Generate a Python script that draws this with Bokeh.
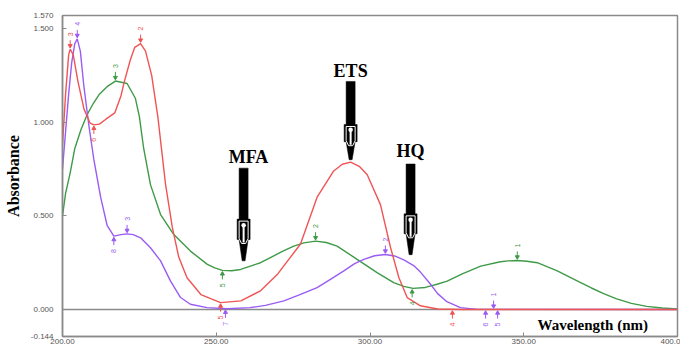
import math
from bokeh.plotting import figure
from bokeh.models import Range1d, FixedTicker, NumeralTickFormatter, Span, Label
from bokeh.core.properties import value
from bokeh.embed import file_html
from bokeh.resources import INLINE

# ---------------- data ----------------
x_ticks = [200, 250, 300, 350, 400]
x_tick_labels = ["200.00", "250.00", "300.00", "350.00", "400.0"]
y_ticks = [-0.144, 0.0, 0.5, 1.0, 1.5, 1.57]

# ETS (red)
wl_ets = [200, 201, 202, 202.5, 203.5, 205, 207, 209, 210.2, 212, 214, 217, 219, 220, 222,
          223.5, 225.4, 227, 229, 231, 233.5, 235.7, 237.8, 240.5, 245, 251.4, 258, 264.4,
          270, 277.4, 282.8, 288.2, 291, 293.7, 296.5, 299.1, 303.4, 306.7, 309.4, 312.1, 316.4,
          322, 330, 400]
abs_ets = [0.88, 1.15, 1.36, 1.39, 1.36, 1.22, 1.07, 0.995, 0.986, 0.99, 1.015, 1.05, 1.14, 1.21, 1.33,
           1.40, 1.42, 1.38, 1.25, 1.03, 0.67, 0.44, 0.28, 0.17, 0.08, 0.037, 0.046, 0.10,
           0.19, 0.35, 0.60, 0.74, 0.776, 0.787, 0.765, 0.72, 0.56, 0.33, 0.17, 0.064, 0.02,
           0.003, 0.0, 0.0]

# HQ (purple)
wl_hq = [200, 201, 202, 203, 204, 204.8, 205.8, 206.9, 208.6, 210.2, 212.4, 214.5, 216.7, 219, 221,
         223, 225.4, 228.6, 231.9, 235.1, 238.4, 241.6, 247, 253.6, 261, 266, 272, 277, 282.8, 287,
         291.5, 295, 298, 301.5, 305, 308, 311, 314.2, 316.4, 319.7, 322, 325, 329.4, 335, 400]
abs_hq = [0.75, 0.95, 1.15, 1.32, 1.42, 1.445, 1.38, 1.20, 0.98, 0.80, 0.60, 0.45, 0.392, 0.40, 0.404,
          0.40, 0.383, 0.33, 0.26, 0.153, 0.064, 0.028, 0.01, 0.004, 0.01, 0.022, 0.046, 0.078, 0.117, 0.16,
          0.206, 0.245, 0.268, 0.287, 0.294, 0.286, 0.265, 0.235, 0.20, 0.135, 0.085, 0.042, 0.01, 0.001, 0.0]

# MFA (green)
wl_mfa = [200, 201, 202.5, 204, 206, 208, 210, 212, 214.5, 217.2, 221, 223.7, 225, 226.4, 228.6,
          231.9, 236.2, 241.6, 247.1, 249.5, 252, 255, 257.9, 261.1, 264.4, 267.6, 271.5, 275.2,
          278.5, 282.3, 285.8, 289.3, 295.8, 302.3, 307.7, 311, 314, 318, 321.8, 325.1, 330, 336,
          342.4, 345, 347.9, 351, 354.4, 360.9, 368.5, 372, 376, 380, 385, 390, 395, 400]
abs_mfa = [0.50, 0.62, 0.73, 0.86, 0.96, 1.04, 1.10, 1.15, 1.19, 1.22, 1.207, 1.128, 1.03, 0.86, 0.667,
           0.507, 0.40, 0.312, 0.241, 0.222, 0.209, 0.207, 0.214, 0.232, 0.250, 0.277, 0.310, 0.339,
           0.356, 0.365, 0.358, 0.339, 0.268, 0.197, 0.144, 0.124, 0.113, 0.118, 0.135, 0.152, 0.19, 0.232,
           0.255, 0.260, 0.262, 0.258, 0.25, 0.206, 0.144, 0.115, 0.085, 0.058, 0.033, 0.017, 0.008, 0.003]

# peak / valley pick marks
ets_mark_wl = [202.5, 225.4, 210.2, 251.4, 326.8]
ets_mark_abs = [1.39, 1.42, 0.986, 0.037, 0.0]
ets_mark_lbl = ["3", "2", "6", "5", "4"]
ets_mark_side = ["up", "up", "down", "down", "down"]

hq_mark_wl = [204.8, 216.7, 221.0, 253.0, 305.0, 340.2, 337.6, 341.5]
hq_mark_abs = [1.445, 0.392, 0.404, 0.004, 0.294, 0.0, 0.0, 0.0]
hq_mark_lbl = ["4", "8", "3", "7", "2", "1", "6", "5"]
hq_mark_side = ["up", "down", "up", "down", "up", "up", "down", "down"]

mfa_mark_wl = [217.2, 252.0, 282.3, 313.7, 347.9]
mfa_mark_abs = [1.22, 0.209, 0.365, 0.113, 0.262]
mfa_mark_lbl = ["3", "5", "2", "4", "1"]
mfa_mark_side = ["up", "down", "up", "down", "up"]

# ---------------- figure ----------------
W, H = 680, 349
MB_L, MB_R, MB_T, MB_B = 62, 3, 15, 13
XMIN, XMAX = 200, 400
YMIN, YMAX = -0.144, 1.570
FW = W - MB_L - MB_R
FH = H - MB_T - MB_B
DX = (XMAX - XMIN) / FW   # data per px
DY = (YMAX - YMIN) / FH

RED = "#f05454"
PURPLE = "#9a5cf2"
GREEN = "#3f9a48"
GREY = "#8a8a8a"

p = figure(width=W, height=H, output_backend="svg", toolbar_location=None,
           x_range=Range1d(XMIN, XMAX), y_range=Range1d(YMIN, YMAX),
           min_border_left=MB_L, min_border_right=MB_R, min_border_top=MB_T, min_border_bottom=MB_B)
p.grid.visible = False
p.outline_line_color = GREY
p.outline_line_width = 1.5
p.background_fill_color = "white"
p.border_fill_color = "white"

for ax in (p.xaxis[0], p.yaxis[0]):
    ax.axis_line_color = GREY
    ax.axis_line_width = 1.5
    ax.major_tick_line_color = GREY
    ax.major_tick_in = 4
    ax.major_tick_out = 0
    ax.minor_tick_line_color = None
    ax.major_label_text_font = "Liberation Sans"
    ax.major_label_text_font_size = "8px"
    ax.major_label_text_color = "#555555"

p.xaxis.ticker = FixedTicker(ticks=x_ticks)
p.xaxis.major_label_overrides = dict(zip(x_ticks, x_tick_labels))
p.xaxis.major_label_standoff = 2
p.yaxis.ticker = FixedTicker(ticks=y_ticks)
p.yaxis.formatter = NumeralTickFormatter(format="0.000")
p.yaxis.major_label_standoff = 9
p.yaxis.axis_label = "Absorbance"
p.yaxis.axis_label_text_font = "Liberation Serif"
p.yaxis.axis_label_text_font_style = "bold"
p.yaxis.axis_label_text_font_size = "16px"
p.yaxis.axis_label_text_color = "black"
p.yaxis.axis_label_standoff = 6

p.add_layout(Span(location=0, dimension="width", line_color=GREY, line_width=1.5, level="underlay"))

p.line(wl_mfa, abs_mfa, line_color=GREEN, line_width=1.4)
p.line(wl_hq, abs_hq, line_color=PURPLE, line_width=1.4)
p.line(wl_ets, abs_ets, line_color=RED, line_width=1.4)


def add_marks(wls, vals, lbls, sides, color):
    x0, y0, y1, tx, ty, hx, hy, hm = [], [], [], [], [], [], [], []
    for w, v, lb, s in zip(wls, vals, lbls, sides):
        sgn = 1 if s == "up" else -1
        x0.append(w)
        y0.append(v + sgn * 2 * DY)
        y1.append(v + sgn * 9 * DY)
        hx.append(w)
        hy.append(v + sgn * 3.5 * DY)
        hm.append("inverted_triangle" if s == "up" else "triangle")
        tx.append(w)
        ty.append(v + sgn * 15 * DY)
    p.segment(x0=x0, y0=y0, x1=x0, y1=y1, line_color=color, line_width=1)
    p.scatter(x=hx, y=hy, marker=hm, size=4, fill_color=color, line_color=color)
    p.text(x=tx, y=ty, text=lbls, angle=math.pi / 2, text_align="center", text_baseline="middle",
           text_font=value("Liberation Sans"), text_font_size="7px", text_color=color)


add_marks(mfa_mark_wl, mfa_mark_abs, mfa_mark_lbl, mfa_mark_side, GREEN)
add_marks(hq_mark_wl, hq_mark_abs, hq_mark_lbl, hq_mark_side, PURPLE)
add_marks(ets_mark_wl, ets_mark_abs, ets_mark_lbl, ets_mark_side, RED)


# ---------------- big annotation arrows ----------------
def big_arrow(cx, y_top, y_tip):
    L = (y_top - y_tip) / DY
    Lb, Lh = 0.55 * L, 0.22 * L
    pts = [(-4.5, 0), (4.5, 0), (4.5, Lb), (6.5, Lb), (6.5, Lb + Lh), (4.5, Lb + Lh),
           (1.5, L), (-1.5, L), (-4.5, Lb + Lh), (-6.5, Lb + Lh), (-6.5, Lb), (-4.5, Lb)]
    xs = [cx + a * DX for a, b in pts]
    ys = [y_top - b * DY for a, b in pts]
    p.patch(xs, ys, fill_color="black", line_color="black", line_width=0.5)
    # hollow keyhole inside the head
    p.scatter(x=[cx], y=[y_top - (Lb + 0.3 * Lh) * DY], size=4.5, marker="circle",
              fill_color="white", line_color=None)
    p.quad(left=[cx - 1.0 * DX], right=[cx + 1.0 * DX],
           top=[y_top - (Lb + 0.3 * Lh) * DY], bottom=[y_top - (Lb + Lh + 3) * DY],
           fill_color="white", line_color=None)
    # thin white outline of the head
    hx = [cx - 4.5 * DX, cx + 4.5 * DX, cx + 4.5 * DX, cx + 2.0 * DX, cx - 2.0 * DX, cx - 4.5 * DX, cx - 4.5 * DX]
    hy = [y_top - (Lb + 2) * DY, y_top - (Lb + 2) * DY, y_top - (Lb + Lh - 1) * DY,
          y_top - (Lb + Lh + 4) * DY, y_top - (Lb + Lh + 4) * DY, y_top - (Lb + Lh - 1) * DY,
          y_top - (Lb + 2) * DY]
    p.line(hx, hy, line_color="white", line_width=1)


big_arrow(258.9, 0.755, 0.26)   # MFA
big_arrow(293.7, 1.218, 0.80)   # ETS
big_arrow(313.2, 0.777, 0.293)  # HQ

for txt, x, y in [("MFA", 260.5, 0.814), ("ETS", 293.7, 1.271), ("HQ", 313.2, 0.846)]:
    p.add_layout(Label(x=x, y=y, text=txt, text_align="center", text_baseline="middle",
                       text_font="Liberation Serif", text_font_style="bold",
                       text_font_size="18px", text_color="black"))

p.add_layout(Label(x=354.5, y=-0.08, text="Wavelength (nm)", text_align="left",
                   text_baseline="middle", text_font="Liberation Serif", text_font_style="bold",
                   text_font_size="15px", text_color="black"))

open("out.html", "w").write(file_html(p, INLINE))
